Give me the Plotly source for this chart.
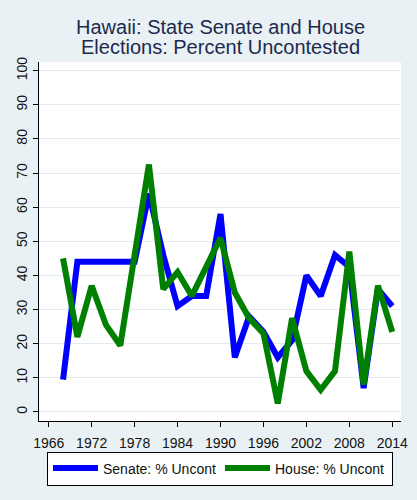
import plotly.graph_objects as go

years = [1968, 1970, 1972, 1974, 1976, 1978, 1980, 1982, 1984, 1986, 1988, 1990,
         1992, 1994, 1996, 1998, 2000, 2002, 2004, 2006, 2008, 2010, 2012, 2014]
senate = [9.5, 44, 44, 44, 44, 44, 64, 46, 31, 34, 34, 58,
          16, 28, 23.5, 16, 21, 40, 34, 46, 42.5, 7, 36, 31]
house = [45, 22, 37, 25.5, 19.5, 45, 72.5, 36, 41, 34, 42.5, 51,
         35, 27.5, 23, 2.5, 27.5, 12, 6.5, 12, 47, 8, 37, 23.5]
x_ticks = [1966, 1972, 1978, 1984, 1990, 1996, 2002, 2008, 2014]
y_ticks = [0, 10, 20, 30, 40, 50, 60, 70, 80, 90, 100]
title_lines = ["Hawaii: State Senate and House", "Elections: Percent Uncontested"]

FONT = "Liberation Sans, Arial, sans-serif"
BG = "#EAF1F4"
GRID = "#E3EBEE"
H = 500
MT, MB = 62, 79
PH = H - MT - MB

fig = go.Figure()
fig.add_trace(go.Scatter(x=years, y=senate, mode="lines", name="Senate: % Uncont",
                         line=dict(color="#0000FF", width=6)))
fig.add_trace(go.Scatter(x=years, y=house, mode="lines", name="House: % Uncont",
                         line=dict(color="#008000", width=6)))

for txt, ypx in zip(title_lines, [27, 46.5]):
    fig.add_annotation(text=txt, xref="paper", yref="paper", x=0.5,
                       y=(H - MB - ypx) / PH, height=19, valign="middle",
                       xanchor="center", yanchor="middle", showarrow=False,
                       font=dict(family=FONT, size=20, color="#1C2A4E"))

fig.update_layout(
    width=417, height=H,
    margin=dict(l=39, r=16, t=MT, b=MB, autoexpand=False),
    paper_bgcolor=BG, plot_bgcolor="white",
    font=dict(family=FONT, color="#111111", size=13),
    showlegend=True,
    legend=dict(orientation="h", x=0.5, xanchor="center", y=-0.085, yanchor="top",
                bgcolor="white", bordercolor="black", borderwidth=1,
                font=dict(family=FONT, size=14, color="#111111"),
                itemwidth=45, entrywidth=112, tracegroupgap=0),
    xaxis=dict(range=[1964.64, 2015.22], tickvals=x_ticks, ticks="outside", ticklen=5,
               tickcolor="black", showline=True, linecolor="black", linewidth=1,
               showgrid=False, zeroline=False, mirror=False, ticklabelstandoff=4,
               tickfont=dict(size=14, family=FONT, color="#111111")),
    yaxis=dict(range=[-2.64, 102.55], tickvals=y_ticks, ticks="outside", ticklen=5,
               tickcolor="black", showline=True, linecolor="black", linewidth=1,
               showgrid=True, gridcolor=GRID, gridwidth=1, zeroline=False,
               tickangle=-90, tickfont=dict(size=14, family=FONT, color="#111111")),
)

fig.write_html("out.html", config={"displayModeBar": False},
               post_script="document.body.style.margin='0px';")
